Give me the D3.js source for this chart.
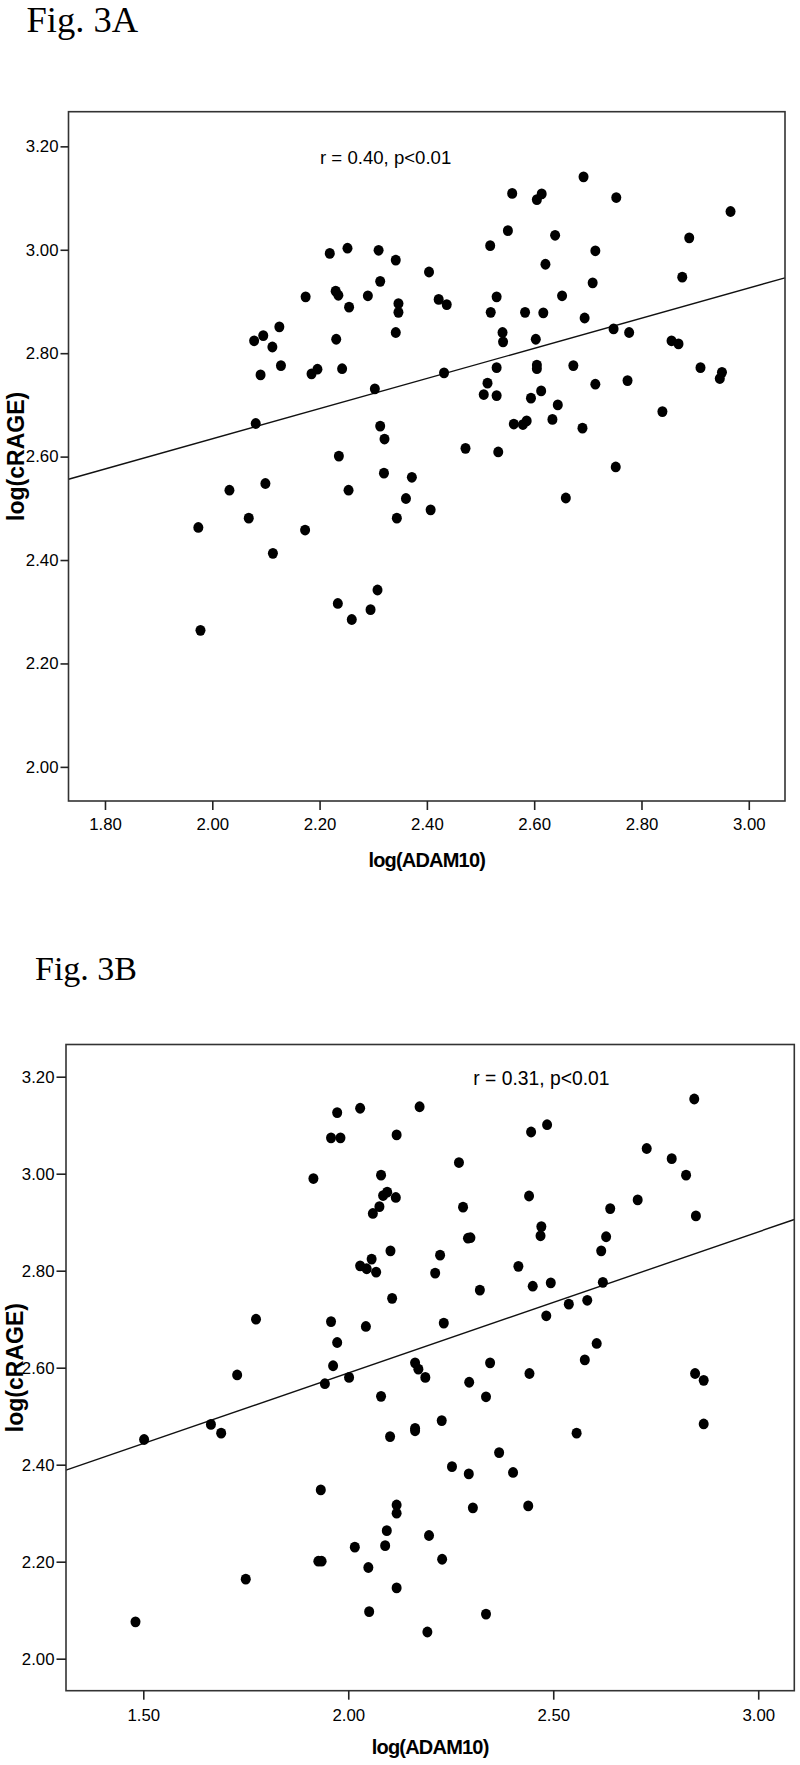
<!DOCTYPE html>
<html>
<head>
<meta charset="utf-8">
<script src="https://cdn.jsdelivr.net/npm/d3@7"></script>
<style>
  body { margin: 0; background: #fff; }
  .tick text { font-family: "Liberation Sans Narrow", "Arial Narrow", "Liberation Sans", sans-serif; font-size: 16.8px; fill: #000; }
</style>
</head>
<body>
<svg class="chart"></svg>
<script>
var width = 800, height = 1765;

var chart = d3.select(".chart")
    .attr("width", width)
    .attr("height", height);

// Fig 3A points: log(ADAM10), log(cRAGE)
var adamA = [2.219,2.252,2.310,2.342,2.174,2.230,2.235,2.290,2.313,2.255,2.347,2.347,2.342,2.125,2.095,2.078,2.112,2.231,
  2.090,2.128,2.185,2.196,2.242,2.303,2.081,2.313,2.321,2.236,2.320,2.032,2.099,2.254,2.068,1.974,2.173,2.344,2.113,1.978,
  2.234,2.260,2.295,2.308,
  2.692,2.559,2.614,2.605,2.753,2.966,2.551,2.639,2.518,2.889,2.714,2.621,2.404,2.709,2.876,2.530,2.652,2.422,2.437,2.519,
  2.583,2.617,2.694,2.748,2.777,2.541,2.542,2.603,2.856,2.869,2.432,2.530,2.605,2.605,2.673,2.910,2.950,2.946,2.513,2.714,
  2.774,2.506,2.530,2.613,2.594,2.644,2.839,2.562,2.579,2.586,2.634,2.690,2.472,2.533,2.752,2.659,2.372,2.361,2.407];
var rageA = [2.993,3.003,2.999,2.980,2.909,2.920,2.912,2.911,2.939,2.889,2.896,2.879,2.840,2.851,2.834,2.824,2.812,2.827,
  2.758,2.776,2.760,2.769,2.770,2.731,2.664,2.659,2.634,2.601,2.568,2.535,2.548,2.535,2.481,2.463,2.458,2.481,2.413,2.264,
  2.316,2.285,2.304,2.342,
  3.141,3.109,3.108,3.097,3.101,3.074,3.037,3.028,3.008,3.023,2.998,2.972,2.957,2.936,2.947,2.909,2.911,2.904,2.894,2.879,
  2.879,2.878,2.868,2.847,2.840,2.840,2.822,2.827,2.824,2.818,2.762,2.772,2.777,2.770,2.776,2.772,2.763,2.751,2.742,2.740,
  2.747,2.720,2.718,2.727,2.713,2.700,2.687,2.663,2.662,2.669,2.672,2.655,2.616,2.609,2.580,2.520,2.560,2.519,2.497];

// Fig 3B points
var adamB = [2.029,1.973,1.958,1.981,2.118,1.915,2.080,2.085,2.095,2.116,2.076,2.060,2.103,2.029,2.057,2.045,2.068,2.107,
  1.775,1.958,2.043,1.973,1.963,1.729,1.943,2.002,2.080,1.665,1.690,1.502,2.102,1.933,2.118,2.118,2.094,2.016,2.090,1.927,
  1.935,2.049,1.750,2.118,2.051,1.481,
  2.844,2.174,2.485,2.446,2.728,2.789,2.824,2.270,2.441,2.706,2.280,2.639,2.848,2.471,2.469,2.292,2.298,2.629,2.224,2.617,
  2.212,2.415,2.321,2.450,2.494,2.621,2.538,2.583,2.483,2.233,2.606,2.577,2.163,2.171,2.188,2.346,2.442,2.295,2.336,2.846,
  2.867,2.228,2.163,2.163,2.557,2.867,2.368,2.253,2.294,2.402,2.304,2.439,2.197,2.229,2.336,2.193];
var rageB = [3.135,3.126,3.074,3.074,3.080,2.990,2.997,2.955,2.962,2.951,2.932,2.918,2.841,2.810,2.824,2.804,2.797,2.743,
  2.700,2.695,2.685,2.652,2.604,2.585,2.567,2.580,2.541,2.483,2.465,2.452,2.458,2.348,2.317,2.300,2.264,2.230,2.233,2.201,
  2.201,2.188,2.164,2.146,2.097,2.076,
  3.154,3.138,3.101,3.086,3.052,3.031,2.997,3.023,2.954,2.946,2.931,2.928,2.913,2.891,2.872,2.867,2.868,2.870,2.832,2.841,
  2.795,2.809,2.760,2.768,2.775,2.776,2.731,2.739,2.707,2.692,2.650,2.616,2.610,2.597,2.580,2.610,2.588,2.570,2.540,2.588,
  2.574,2.491,2.475,2.470,2.465,2.484,2.425,2.396,2.381,2.384,2.311,2.315,2.254,2.205,2.092,2.055];

// regression lines [intercept, slope]
var fitA = [2.051, 0.2917];
var fitB = [2.007, 0.291];

var yTicks = [2.00, 2.20, 2.40, 2.60, 2.80, 3.00, 3.20];
var xTicksA = [1.80, 2.00, 2.20, 2.40, 2.60, 2.80, 3.00];
var xTicksB = [1.50, 2.00, 2.50, 3.00];

var statA = "r = 0.40, p<0.01";
var statB = "r = 0.31, p<0.01";

function drawPanel(p) {
    var x = d3.scaleLinear().domain(p.xDom).range([p.left, p.right]);
    var y = d3.scaleLinear().domain(p.yDom).range([p.bottom, p.top]);
    var g = chart.append("g");

    var pts = p.xs.map(function(v, i) { return [v, p.ys[i]]; });

    // regression line across the frame
    g.append("line")
        .attr("x1", x(p.xDom[0])).attr("y1", y(p.fit[0] + p.fit[1] * p.xDom[0]))
        .attr("x2", x(p.xDom[1])).attr("y2", y(p.fit[0] + p.fit[1] * p.xDom[1]))
        .attr("stroke", "#111").attr("stroke-width", 1.4);

    g.selectAll("ellipse.pt")
        .data(pts)
        .enter().append("ellipse")
        .attr("class", "pt")
        .attr("cx", function(d) { return x(d[0]); })
        .attr("cy", function(d) { return y(d[1]); })
        .attr("rx", 5).attr("ry", 5.4)
        .attr("fill", "#000");

    g.append("rect")
        .attr("x", p.left).attr("y", p.top)
        .attr("width", p.right - p.left).attr("height", p.bottom - p.top)
        .attr("fill", "none").attr("stroke", "#333").attr("stroke-width", 1.6);

    var yAxis = d3.axisLeft(y).tickValues(yTicks).tickFormat(d3.format(".2f"))
        .tickSize(p.ytick).tickSizeOuter(0).tickPadding(2);
    var xAxis = d3.axisBottom(x).tickValues(p.xTicks).tickFormat(d3.format(".2f"))
        .tickSize(9).tickSizeOuter(0).tickPadding(p.xpad);

    var ya = g.append("g").attr("transform", "translate(" + p.left + ",0)").call(yAxis);
    var xa = g.append("g").attr("transform", "translate(0," + p.bottom + ")").call(xAxis);
    [ya, xa].forEach(function(a) {
        a.select(".domain").remove();
        a.selectAll(".tick line").attr("stroke", "#222").attr("stroke-width", 1.6);
    });

    g.append("text")
        .attr("x", (p.left + p.right) / 2).attr("y", p.xTitleY)
        .attr("text-anchor", "middle")
        .style("font-family", "Liberation Sans, Arial, sans-serif")
        .style("font-weight", "bold").style("font-size", "20px")
        .style("letter-spacing", "-0.8px")
        .text("log(ADAM10)");

    g.append("text")
        .attr("transform", "translate(" + p.yTitleX + "," + (p.top + p.bottom) / 2 + ") rotate(-90)")
        .attr("text-anchor", "middle")
        .style("font-family", "Liberation Sans, Arial, sans-serif")
        .style("font-weight", "bold").style("font-size", "23px")
        .text("log(cRAGE)");

    g.append("text")
        .attr("x", p.statX).attr("y", p.statY)
        .style("font-family", "Liberation Sans, Arial, sans-serif")
        .style("font-size", p.statSize + "px")
        .text(p.stat);

    chart.append("text")
        .attr("x", p.figX).attr("y", p.figY)
        .style("font-family", "'Liberation Serif', 'Times New Roman', serif")
        .style("font-size", p.figSize + "px")
        .text(p.fig);
}

drawPanel({
    xs: adamA, ys: rageA, fit: fitA, xTicks: xTicksA,
    xDom: [1.732, 3.0675], yDom: [1.934, 3.267],
    left: 68.5, right: 785, top: 111.7, bottom: 801,
    ytick: 8, xpad: 8, xTitleY: 867, yTitleX: 24,
    stat: statA, statX: 320, statY: 163.5, statSize: 18.6,
    fig: "Fig. 3A", figX: 26.5, figY: 31.5, figSize: 36.5
});

drawPanel({
    xs: adamB, ys: rageB, fit: fitB, xTicks: xTicksB,
    xDom: [1.3115, 3.088], yDom: [1.934, 3.2664],
    left: 66, right: 794.3, top: 1044.5, bottom: 1690.7,
    ytick: 9.5, xpad: 9, xTitleY: 1754, yTitleX: 22.7,
    stat: statB, statX: 473.3, statY: 1085, statSize: 19.3,
    fig: "Fig. 3B", figX: 35, figY: 980, figSize: 34
});
</script>
</body>
</html>
